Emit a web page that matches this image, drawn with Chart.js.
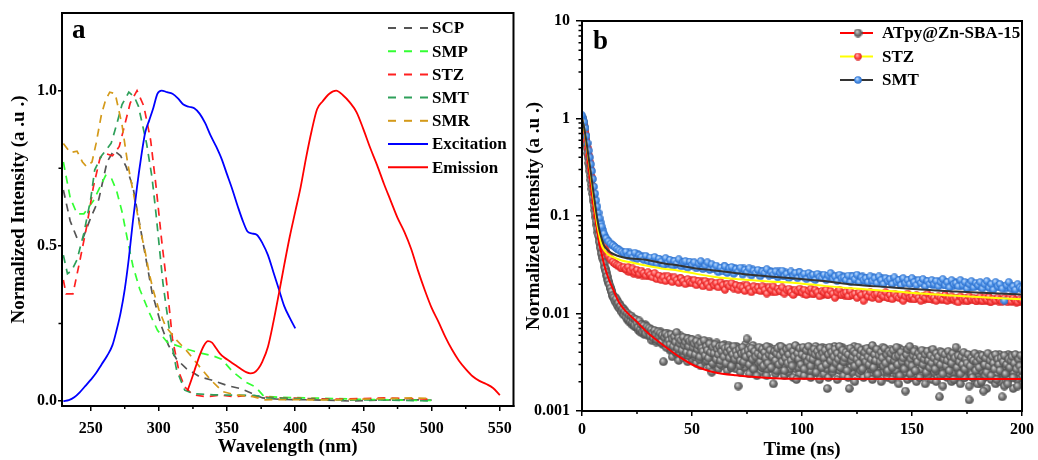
<!DOCTYPE html>
<html><head><meta charset="utf-8">
<script src="https://cdn.jsdelivr.net/npm/chart.js@4.4.1/dist/chart.umd.min.js"></script>
<style>
html,body{margin:0;padding:0;background:#fff;width:1038px;height:460px;overflow:hidden}
#ca{position:absolute;left:0;top:0}
#cb{position:absolute;left:520px;top:0}
</style></head><body>
<canvas id="ca" width="520" height="460"></canvas>
<canvas id="cb" width="518" height="460"></canvas>
<script>
// ---------------- Panel a data ----------------
const aTicksX = [250,300,350,400,450,500,550];
const aMinorX = [275,325,375,425,475,525];
const aTicksY = [0,0.5,1.0];
const aMinorY = [0.25,0.75];

const scpWl = [230,235,240,244,250,256,262,267,272,276,281,288,295,302,307,313,320,330,340,350,360,368,376,390,410,430,440,460,480,500];
const scpI  = [0.68,0.58,0.525,0.52,0.59,0.65,0.77,0.807,0.79,0.755,0.69,0.52,0.35,0.24,0.18,0.135,0.105,0.078,0.066,0.05,0.04,0.025,0.01,0.005,0.004,0.002,0.0,0.003,0.004,0.003];
const smpWl = [230,235,240,245,252,261,265,269,273,277,281,286,293,299,306,320,330,340,346,354,364,371,377,390,410,430,450,470,490,500];
const smpI  = [0.77,0.655,0.603,0.603,0.645,0.727,0.72,0.678,0.61,0.52,0.435,0.36,0.285,0.228,0.19,0.168,0.155,0.145,0.135,0.095,0.06,0.045,0.015,0.012,0.01,0.008,0.005,0.004,0.002,0.002];
const stzWl = [230,232,237,242,247,252,257,262,266,271,275,279,284,289,294,298,302,306,310,315,319,325,335,345,355,365,375,390,410,430,450,465,480,500];
const stzI  = [0.39,0.345,0.345,0.45,0.56,0.69,0.785,0.796,0.79,0.82,0.89,0.96,1.0,0.95,0.84,0.69,0.52,0.37,0.2,0.09,0.045,0.02,0.014,0.019,0.014,0.018,0.013,0.01,0.008,0.006,0.008,0.01,0.008,0.006];
const smtWl = [230,233,236,240,245,250,253,258,265,269,273,278,282,285,288,291,295,298,303,308,313,319,325,340,355,370,380,400,420,440,460,480,500];
const smtI  = [0.47,0.41,0.42,0.455,0.54,0.65,0.745,0.79,0.83,0.89,0.955,0.995,0.98,0.95,0.89,0.83,0.72,0.6,0.38,0.22,0.1,0.035,0.024,0.02,0.019,0.018,0.01,0.008,0.005,0.003,0.004,0.002,0.0];
const smrWl = [230,235,240,244,247,251,254,258,261,264,268,271,273,275,277,280,284,287,290,293,296,300,305,313,320,330,338,347,357,369,377,390,410,430,450,470,485,500];
const smrI  = [0.83,0.80,0.805,0.77,0.755,0.77,0.83,0.925,0.97,0.995,0.99,0.93,0.89,0.83,0.77,0.70,0.61,0.54,0.48,0.41,0.355,0.295,0.24,0.196,0.164,0.11,0.068,0.03,0.019,0.014,0.004,0.005,0.004,0.004,0.006,0.008,0.01,0.008];
const excWl = [230,234,238,242,246,250,254,258,262,266,269,272,275,278,281,284,287,290,293,296,299,302,306,310,314,318,322,326,330,334,338,342,346,350,354,358,362,365,368,372,376,380,384,388,392,396,400];
const excI  = [0,0.003,0.012,0.028,0.048,0.068,0.09,0.118,0.145,0.18,0.228,0.285,0.36,0.46,0.58,0.69,0.785,0.865,0.905,0.945,0.99,1.0,0.995,0.99,0.975,0.955,0.948,0.943,0.925,0.895,0.855,0.82,0.78,0.73,0.68,0.625,0.575,0.546,0.54,0.535,0.508,0.47,0.415,0.36,0.305,0.268,0.234];
const emWl  = [321,324,327,330,333,336,339,342,345,348,352,356,360,364,367,370,373,376,380,384,388,392,396,400,404,408,412,416,420,425,430,435,440,445,450,455,460,465,470,475,480,485,490,495,500,505,510,515,520,525,530,535,540,545,550];
const emI   = [0.033,0.07,0.11,0.148,0.178,0.193,0.188,0.17,0.152,0.14,0.128,0.116,0.104,0.093,0.089,0.092,0.105,0.128,0.175,0.255,0.346,0.44,0.53,0.61,0.69,0.785,0.87,0.94,0.965,0.99,1.0,0.985,0.962,0.93,0.875,0.815,0.76,0.70,0.645,0.59,0.545,0.49,0.42,0.357,0.30,0.255,0.207,0.165,0.13,0.103,0.08,0.065,0.055,0.042,0.019];

// ---------------- Panel b data ----------------
const bTicksX = [0,50,100,150,200];
const bMinorX = [25,75,125,175];
const bTicksY = [0.001,0.01,0.1,1,10];

// ATpy@Zn-SBA-15 decay points: two sets on a 0.5 ns grid (offset 0.25 ns) + lower part of the cloud on a 1 ns grid from 40 ns
const grayDt = 0.5;
const grayI = [
1.02,0.93,0.82,0.68,0.55,0.44,0.35,0.29,0.235,0.19,
0.155,0.128,0.105,0.088,0.074,0.063,0.054,0.047,0.041,0.037,
0.033,0.029,0.0265,0.024,0.0215,0.0198,0.0182,0.0168,0.0152,0.0146,
0.0134,0.0141,0.0122,0.0128,0.0113,0.0119,0.0104,0.0111,0.0097,0.0105,
0.0092,0.0101,0.0088,0.0096,0.0083,0.0094,0.0081,0.0089,0.0076,0.0087,
0.0079,0.0072,0.0084,0.0069,0.0077,0.0065,0.0075,0.0068,0.0062,0.0073,
0.0066,0.0071,0.0059,0.0068,0.0063,0.0056,0.0067,0.0061,0.0054,0.0065,
0.0058,0.0063,0.0051,0.0060,0.0032,0.0057,0.0062,0.0049,0.0059,0.0053,
0.0048,0.0061,0.0055,0.0046,0.0058,0.0051,0.0064,0.0044,0.0056,0.0049,
0.0053,0.0042,0.0057,0.0047,0.0051,0.0040,0.0055,0.0046,0.0052,0.0039,
0.0054,0.0045,0.0049,0.0038,0.0052,0.0043,0.0047,0.0036,0.0050,0.0044,
0.0041,0.0053,0.0037,0.0046,0.0042,0.0035,0.0049,0.0040,0.0025,0.0045,
0.0039,0.0048,0.0034,0.0043,0.0038,0.0046,0.0033,0.0041,0.0047,0.0036,
0.0044,0.0031,0.0040,0.0045,0.0035,0.0042,0.0029,0.0038,0.0046,0.0034,
0.0041,0.0037,0.0018,0.0043,0.0033,0.0039,0.0045,0.0032,0.0040,0.0036,
0.0055,0.0042,0.0030,0.0038,0.0044,0.0034,0.0027,0.0041,0.0036,0.0023,
0.0039,0.0045,0.0032,0.0037,0.0043,0.0029,0.0040,0.0035,0.0046,0.0031,
0.0038,0.0042,0.0028,0.0036,0.0019,0.0041,0.0033,0.0039,0.0044,0.0030,
0.0037,0.0046,0.0032,0.0040,0.0026,0.0035,0.0043,0.0031,0.0038,0.0045,
0.0033,0.0029,0.0041,0.0036,0.0047,0.0021,0.0039,0.0034,0.0044,0.0030,
0.0038,0.0045,0.0027,0.0036,0.0042,0.0032,0.0046,0.0035,0.0029,0.0040,
0.0034,0.0043,0.0038,0.0025,0.0041,0.0031,0.0037,0.0044,0.0028,0.0039,
0.0035,0.0042,0.0030,0.0017,0.0038,0.0045,0.0033,0.0040,0.0027,0.0036,
0.0043,0.0031,0.0039,0.0034,0.0046,0.0028,0.0037,0.0042,0.0032,0.0035,
0.0040,0.0026,0.0038,0.0017,0.0044,0.0033,0.0036,0.0041,0.0029,0.0039,
0.0034,0.0045,0.0031,0.0037,0.0042,0.0027,0.0035,0.0040,0.0032,0.0044,
0.0036,0.0030,0.0041,0.0034,0.0047,0.0028,0.0038,0.0033,0.0043,0.0024,
0.0037,0.0032,0.0040,0.0035,0.0029,0.0044,0.0031,0.0038,0.0026,0.0041,
0.0034,0.0039,0.0028,0.0042,0.0033,0.0036,0.0045,0.0030,0.0037,0.0023,
0.0040,0.0032,0.0035,0.0027,0.0016,0.0038,0.0043,0.0031,0.0046,0.0034,
0.0029,0.0037,0.0041,0.0026,0.0035,0.0032,0.0039,0.0022,0.0036,0.0042,
0.0030,0.0034,0.0038,0.0025,0.0041,0.0033,0.0028,0.0037,0.0031,0.0043,
0.0035,0.0027,0.0039,0.0032,0.0036,0.0014,0.0030,0.0040,0.0024,0.0034,
0.0038,0.0029,0.0033,0.0041,0.0026,0.0036,0.0031,0.0039,0.0021,0.0035,
0.0045,0.0028,0.0037,0.0032,0.0024,0.0036,0.0030,0.0040,0.0027,0.0034,
0.0031,0.0038,0.0013,0.0029,0.0035,0.0022,0.0033,0.0039,0.0026,0.0032,
0.0036,0.0028,0.0034,0.0020,0.0037,0.0016,0.0030,0.0035,0.0025,0.0039,
0.0029,0.0033,0.0023,0.0036,0.0031,0.0027,0.0038,0.0021,0.0034,0.0030,
0.0026,0.0035,0.0014,0.0032,0.0037,0.0024,0.0030,0.0019,0.0034,0.0028,
0.0033,0.0036,0.0022,0.0031,0.0038,0.0027,0.0018,0.0034,0.0029,0.0037,
0.0026];
const grayI2 = [
0.98,0.88,0.75,0.61,0.50,0.40,0.32,0.26,0.21,0.17,
0.142,0.115,0.097,0.081,0.068,0.058,0.050,0.044,0.039,0.035,
0.030,0.0275,0.0245,0.0222,0.0205,0.0185,0.0172,0.0158,0.0149,0.0138,
0.0145,0.0127,0.0133,0.0116,0.0124,0.0108,0.0115,0.0101,0.0109,0.0095,
0.0099,0.0086,0.0094,0.0081,0.0091,0.0077,0.0086,0.0074,0.0083,0.0072,
0.0082,0.0067,0.0078,0.0064,0.0074,0.0071,0.0061,0.0077,0.0064,0.0070,
0.0059,0.0069,0.0062,0.0053,0.0066,0.0058,0.0064,0.0051,0.0062,0.0057,
0.0052,0.0065,0.0055,0.0048,0.0061,0.0054,0.0045,0.0063,0.0050,0.0058,
0.0053,0.0043,0.0060,0.0050,0.0041,0.0057,0.0048,0.0053,0.0040,0.0059,
0.0046,0.0055,0.0038,0.0050,0.0044,0.0056,0.0037,0.0048,0.0043,0.0054,
0.0040,0.0050,0.0036,0.0047,0.0042,0.0055,0.0034,0.0045,0.0039,0.0051,
0.0036,0.0044,0.0048,0.0033,0.0041,0.0052,0.0038,0.0043,0.0031,0.0047,
0.0042,0.0035,0.0050,0.0037,0.0044,0.0030,0.0045,0.0039,0.0034,0.0048,
0.0036,0.0043,0.0033,0.0047,0.0039,0.0028,0.0044,0.0036,0.0041,0.0032,
0.0046,0.0034,0.0039,0.0029,0.0044,0.0037,0.0031,0.0042,0.0048,0.0035,
0.0038,0.0032,0.0045,0.0040,0.0033,0.0047,0.0029,0.0039,0.0043,0.0034,
0.0031,0.0041,0.0036,0.0028,0.0044,0.0038,0.0033,0.0042,0.0027,0.0040,
0.0045,0.0034,0.0039,0.0031,0.0043,0.0036,0.0026,0.0041,0.0037,0.0046,
0.0032,0.0040,0.0035,0.0044,0.0029,0.0038,0.0042,0.0033,0.0027,0.0041,
0.0037,0.0044,0.0031,0.0039,0.0034,0.0045,0.0028,0.0040,0.0036,0.0042,
0.0033,0.0039,0.0044,0.0030,0.0041,0.0035,0.0038,0.0026,0.0043,0.0037,
0.0040,0.0032,0.0046,0.0035,0.0029,0.0042,0.0036,0.0033,0.0045,0.0031,
0.0039,0.0044,0.0027,0.0037,0.0041,0.0032,0.0036,0.0043,0.0030,0.0046,
0.0034,0.0040,0.0029,0.0038,0.0042,0.0033,0.0045,0.0031,0.0039,0.0027,
0.0036,0.0043,0.0032,0.0039,0.0028,0.0041,0.0035,0.0046,0.0030,0.0037,
0.0042,0.0031,0.0038,0.0026,0.0040,0.0034,0.0043,0.0029,0.0037,0.0033,
0.0039,0.0044,0.0032,0.0037,0.0027,0.0041,0.0035,0.0030,0.0042,0.0036,
0.0031,0.0040,0.0034,0.0045,0.0029,0.0036,0.0041,0.0025,0.0038,0.0033,
0.0043,0.0030,0.0037,0.0032,0.0040,0.0026,0.0039,0.0034,0.0044,0.0031,
0.0036,0.0042,0.0028,0.0038,0.0033,0.0041,0.0030,0.0035,0.0024,0.0040,
0.0034,0.0031,0.0043,0.0036,0.0028,0.0039,0.0033,0.0040,0.0027,0.0037,
0.0032,0.0041,0.0029,0.0036,0.0023,0.0038,0.0034,0.0042,0.0030,0.0035,
0.0039,0.0031,0.0026,0.0037,0.0033,0.0041,0.0028,0.0035,0.0032,0.0038,
0.0030,0.0036,0.0040,0.0027,0.0034,0.0029,0.0037,0.0025,0.0032,0.0039,
0.0033,0.0036,0.0026,0.0031,0.0038,0.0028,0.0034,0.0022,0.0036,0.0030,
0.0035,0.0027,0.0033,0.0037,0.0024,0.0031,0.0036,0.0029,0.0034,0.0019,
0.0032,0.0038,0.0026,0.0033,0.0029,0.0036,0.0023,0.0031,0.0035,0.0027,
0.0034,0.0025,0.0032,0.0037,0.0028,0.0033,0.0024,0.0035,0.0030,0.0038,
0.0029,0.0034,0.0031,0.0025,0.0036,0.0028,0.0033,0.0038,0.0026,0.0032,
0.0037,0.0030,0.0025,0.0035,0.0031,0.0021,0.0033,0.0036,0.0028,0.0032];
const grayI3 = [
0.0042,0.0036,0.0045,0.0039,0.0033,0.0041,0.0035,0.0043,0.0032,0.0038,
0.0034,0.0040,0.0031,0.0037,0.0029,0.0036,0.0032,0.0039,0.0028,0.0034,
0.0030,0.0035,0.0027,0.0033,0.0029,0.0036,0.0026,0.0031,0.0028,0.0034,
0.0027,0.0032,0.0025,0.0030,0.0028,0.0033,0.0024,0.0029,0.0031,0.0026,
0.0030,0.0025,0.0028,0.0032,0.0023,0.0029,0.0027,0.0031,0.0024,0.0028,
0.0026,0.0031,0.0023,0.0028,0.0025,0.0030,0.0022,0.0027,0.0029,0.0024,
0.0028,0.0023,0.0030,0.0026,0.0022,0.0029,0.0025,0.0027,0.0021,0.0028,
0.0024,0.0029,0.0022,0.0027,0.0025,0.0030,0.0021,0.0026,0.0028,0.0023,
0.0027,0.0022,0.0029,0.0025,0.0020,0.0028,0.0024,0.0026,0.0022,0.0029,
0.0023,0.0027,0.0021,0.0026,0.0024,0.0028,0.0020,0.0025,0.0027,0.0022,
0.0026,0.0021,0.0028,0.0024,0.0019,0.0027,0.0023,0.0025,0.0021,0.0028,
0.0022,0.0026,0.0020,0.0025,0.0023,0.0027,0.0019,0.0024,0.0026,0.0021,
0.0025,0.0020,0.0027,0.0023,0.0018,0.0026,0.0022,0.0024,0.0020,0.0027,
0.0021,0.0025,0.0019,0.0024,0.0022,0.0026,0.0018,0.0023,0.0025,0.0020,
0.0024,0.0019,0.0026,0.0022,0.0017,0.0025,0.0021,0.0023,0.0019,0.0026,
0.0020,0.0024,0.0018,0.0023,0.0021,0.0025,0.0017,0.0022,0.0024,0.0019,
0.0022];

// STZ and SMT decay points, channel grid 1 ns (second sets offset by 0.5 ns)
const ptDt = 1;
const stzPts = [
1.0,0.84,0.6,0.42,0.3,0.2,0.14,0.1,0.075,0.06,
0.05,0.044,0.039,0.036,0.034,0.0325,0.0315,0.031,0.0295,0.03,
0.0285,0.03,0.0275,0.029,0.0265,0.028,0.0255,0.0275,0.026,0.0245,
0.0265,0.025,0.0235,0.026,0.0225,0.0245,0.022,0.0235,0.0215,0.024,
0.0225,0.021,0.0235,0.022,0.0205,0.023,0.0215,0.02,0.0225,0.021,
0.0205,0.022,0.0195,0.0215,0.0205,0.019,0.0215,0.02,0.0185,0.021,
0.0195,0.0205,0.0185,0.021,0.0195,0.0175,0.02,0.019,0.0205,0.018,
0.0195,0.0175,0.019,0.0185,0.017,0.0195,0.018,0.0165,0.019,0.0175,
0.0185,0.017,0.019,0.0175,0.016,0.0185,0.0175,0.019,0.0165,0.018,
0.017,0.0185,0.016,0.0175,0.018,0.0165,0.0155,0.0175,0.017,0.018,
0.0165,0.0175,0.0155,0.017,0.018,0.016,0.0175,0.0165,0.015,0.017,
0.0165,0.0175,0.0155,0.017,0.016,0.0145,0.0165,0.0175,0.0155,0.016,
0.0165,0.015,0.017,0.0155,0.016,0.0145,0.0165,0.0155,0.0135,0.016,
0.015,0.0165,0.0145,0.0155,0.016,0.014,0.0155,0.015,0.0165,0.0145,
0.0155,0.014,0.016,0.015,0.0145,0.0155,0.0135,0.015,0.016,0.0145,
0.015,0.014,0.0155,0.0145,0.0135,0.015,0.0145,0.016,0.014,0.015,
0.0145,0.0135,0.015,0.0145,0.014,0.0155,0.0135,0.0145,0.015,0.014,
0.0145,0.013,0.015,0.014,0.0145,0.0135,0.015,0.014,0.0145,0.0135,
0.014,0.015,0.0135,0.0145,0.0138,0.0148,0.0132,0.0142,0.0136,0.0146,
0.0138,0.0132,0.0145,0.0136,0.0141,0.0133,0.0144,0.0137,0.0131,0.014,
0.0136];
const stzPts2 = [
0.93,0.72,0.5,0.36,0.25,0.17,0.12,0.087,0.067,0.055,
0.047,0.041,0.0375,0.035,0.033,0.032,0.0305,0.0295,0.029,0.0285,
0.0275,0.0265,0.028,0.0255,0.027,0.025,0.0265,0.0245,0.0255,0.025,
0.024,0.0255,0.0245,0.023,0.0245,0.0235,0.0225,0.024,0.023,0.022,
0.0235,0.0215,0.0225,0.0215,0.023,0.021,0.022,0.0215,0.0205,0.022,
0.021,0.0205,0.0215,0.02,0.0215,0.0205,0.0195,0.021,0.02,0.0195,
0.02,0.019,0.0205,0.0195,0.0185,0.02,0.019,0.0195,0.0185,0.0195,
0.0185,0.019,0.018,0.0195,0.018,0.0185,0.0175,0.0185,0.018,0.0185,
0.0175,0.018,0.017,0.0185,0.0175,0.018,0.0165,0.0175,0.018,0.017,
0.0175,0.0165,0.0175,0.017,0.0165,0.0175,0.016,0.017,0.0165,0.017,
0.016,0.017,0.0165,0.016,0.0168,0.0158,0.0165,0.016,0.0168,0.0155,
0.0162,0.0155,0.0165,0.0158,0.016,0.0152,0.016,0.0155,0.0162,0.0152,
0.0158,0.015,0.016,0.0153,0.0157,0.0148,0.0156,0.0151,0.0158,0.0148,
0.0153,0.0147,0.0155,0.0149,0.0153,0.0145,0.0151,0.0146,0.0152,0.0144,
0.015,0.0144,0.0151,0.0146,0.0149,0.0141,0.0148,0.0143,0.0149,0.014,
0.0146,0.0141,0.0148,0.0143,0.0146,0.0138,0.0145,0.014,0.0146,0.0138,
0.0143,0.0139,0.0145,0.0137,0.0142,0.0136,0.0143,0.0138,0.0141,0.0135,
0.0141,0.0136,0.0142,0.0135,0.014,0.0134,0.0141,0.0136,0.0139,0.0133,
0.0138,0.0134,0.014,0.0133,0.0137,0.0131,0.0138,0.0134,0.0136,0.0132,
0.0137,0.0133,0.0135,0.013,0.0136,0.0132,0.0134,0.0129,0.0135,0.0131];
const smtPts = [
1.08,0.92,0.66,0.47,0.34,0.24,0.17,0.125,0.095,0.078,
0.066,0.059,0.055,0.052,0.05,0.048,0.046,0.0445,0.043,0.0415,
0.043,0.039,0.041,0.0375,0.042,0.0365,0.0395,0.038,0.0355,0.039,
0.0345,0.0375,0.0335,0.038,0.0325,0.0365,0.034,0.0315,0.037,0.033,
0.0355,0.031,0.0345,0.0325,0.036,0.0305,0.0335,0.0345,0.0295,0.034,
0.0315,0.0335,0.029,0.0325,0.0345,0.0285,0.031,0.0335,0.028,0.032,
0.0285,0.031,0.0265,0.0295,0.027,0.0305,0.026,0.029,0.03,0.0255,
0.0285,0.027,0.0295,0.025,0.028,0.0265,0.029,0.0245,0.0275,0.026,
0.028,0.024,0.027,0.026,0.0285,0.0245,0.0265,0.025,0.027,0.0235,
0.026,0.0275,0.024,0.0255,0.023,0.027,0.0245,0.026,0.023,0.0265,
0.024,0.0255,0.0225,0.026,0.024,0.025,0.022,0.0255,0.0235,0.023,
0.025,0.022,0.0245,0.026,0.0225,0.024,0.0215,0.025,0.023,0.0235,
0.022,0.0245,0.021,0.024,0.0225,0.025,0.021,0.0235,0.022,0.023,
0.021,0.024,0.0215,0.023,0.0205,0.024,0.022,0.02,0.023,0.0215,
0.0225,0.02,0.0235,0.021,0.022,0.0195,0.023,0.0205,0.022,0.02,
0.023,0.021,0.0195,0.022,0.0205,0.0225,0.019,0.0215,0.02,0.022,
0.02,0.0215,0.019,0.021,0.0225,0.0195,0.021,0.0185,0.022,0.02,
0.0205,0.019,0.022,0.0195,0.021,0.018,0.02,0.0215,0.0185,0.0205,
0.0195,0.021,0.018,0.02,0.0215,0.0185,0.02,0.0175,0.021,0.019,
0.02,0.018,0.0135,0.0195,0.021,0.018,0.019,0.0175,0.02,0.0185,
0.018];
const smtPts2 = [
1.0,0.8,0.56,0.4,0.29,0.2,0.145,0.108,0.086,0.072,
0.062,0.057,0.0535,0.051,0.049,0.047,0.0455,0.044,0.0425,0.041,
0.0405,0.0425,0.0385,0.040,0.0375,0.0405,0.037,0.039,0.0365,0.0375,
0.036,0.0335,0.0355,0.0345,0.0365,0.033,0.0355,0.0345,0.032,0.035,
0.033,0.0345,0.0315,0.034,0.0325,0.0335,0.031,0.0325,0.0335,0.0305,
0.033,0.0305,0.032,0.03,0.031,0.0325,0.0295,0.0315,0.03,0.0305,
0.03,0.028,0.0295,0.0285,0.0305,0.0275,0.0295,0.028,0.0285,0.029,
0.027,0.0285,0.0275,0.029,0.0265,0.028,0.027,0.0285,0.026,0.0275,
0.0265,0.0275,0.0255,0.027,0.026,0.0275,0.025,0.0265,0.0255,0.027,
0.0255,0.0245,0.0265,0.025,0.026,0.024,0.0255,0.025,0.0265,0.0245,
0.025,0.0235,0.0245,0.0255,0.023,0.0245,0.024,0.0235,0.025,0.024,
0.0235,0.0245,0.023,0.024,0.0235,0.0225,0.0245,0.0235,0.024,0.0225,
0.0235,0.0225,0.024,0.023,0.022,0.0235,0.0225,0.024,0.0215,0.023,
0.0225,0.022,0.0235,0.0215,0.0225,0.022,0.023,0.021,0.0225,0.022,
0.021,0.0225,0.0215,0.022,0.0205,0.0225,0.021,0.0215,0.022,0.0205,
0.0215,0.022,0.0205,0.021,0.0215,0.02,0.0215,0.0205,0.021,0.0195,
0.021,0.02,0.0215,0.0205,0.0195,0.021,0.02,0.0205,0.019,0.021,
0.0195,0.0205,0.019,0.02,0.0195,0.0205,0.0185,0.0195,0.02,0.019,
0.0195,0.0185,0.02,0.019,0.0195,0.018,0.0195,0.019,0.0185,0.0195,
0.0185,0.019,0.018,0.0195,0.0185,0.019,0.0175,0.019,0.0185,0.018];

const redFitT = [0,1,2,3,4,5,6,7,8,9,10,12,14,17,20,25,30,35,40,45,50,55,60,70,80,90,100,120,150,200];
const redFitV = [1.0,0.75,0.5,0.32,0.21,0.14,0.095,0.068,0.05,0.04,0.032,0.023,0.018,0.0128,0.0105,0.0082,0.0063,0.0051,0.0042,0.0035,0.003,0.0027,0.0025,0.00232,0.00222,0.00216,0.00214,0.00213,0.00213,0.00213];
const fitT    = [0,1,2,3,4,5,6,7,8,9,10,12,14,18,22,29,36,44,52,59,66,74,85,97,110,124,140,154,170,184,200];
const yelFitV = [1.0,0.78,0.55,0.38,0.26,0.17,0.115,0.08,0.061,0.05,0.045,0.040,0.038,0.035,0.0335,0.031,0.029,0.0275,0.0255,0.024,0.023,0.0222,0.0213,0.0206,0.0192,0.018,0.017,0.016,0.0152,0.01455,0.014];
const smtFitV = [1.0,0.8,0.58,0.40,0.28,0.19,0.13,0.092,0.07,0.058,0.05,0.044,0.041,0.038,0.0367,0.0355,0.033,0.031,0.029,0.0278,0.0266,0.0253,0.024,0.0229,0.0215,0.0197,0.0186,0.0176,0.0168,0.0162,0.0157];

// ---------------- helpers ----------------
const FONT = "'Liberation Serif','Times New Roman',serif";
Chart.defaults.font.family = FONT;
Chart.defaults.color = '#000';
const xy = (xs, ys) => ys.map((v, i) => ({x: xs[i], y: v}));
const onGrid = (vals, t0, dt) => vals.map((v, i) => ({x: t0 + i * dt, y: v}));
const grid = (t) => ({ display: true, drawOnChartArea: false, drawTicks: true, tickLength: t, color: '#000', lineWidth: 1.5 });
const border = { display: true, color: '#000', width: 2 };
const tickFont = { family: FONT, size: 16, weight: 'bold' };
const titleFont = { family: FONT, size: 19, weight: 'bold', lineHeight: 1 };

function sphere(light, base, dark, d) {
  const c = document.createElement('canvas');
  c.width = d; c.height = d;
  const g = c.getContext('2d');
  const gr = g.createRadialGradient(d*0.38, d*0.34, d*0.04, d/2, d/2, d/2);
  gr.addColorStop(0, light); gr.addColorStop(0.55, base); gr.addColorStop(1, dark);
  g.fillStyle = gr; g.beginPath(); g.arc(d/2, d/2, d/2 - 0.2, 0, Math.PI*2); g.fill();
  return c;
}
const graySphere = sphere('#cccccc', '#737373', '#4a4a4a', 9);
const redSphere  = sphere('#ffb0b0', '#ff4444', '#d42020', 8);
const blueSphere = sphere('#b8d6fb', '#4a90e8', '#2a6ac4', 8);

function decoPlugin(minorX, minorY, label, lx, ly, legendDraw) {
  return { id: 'deco', afterDraw(chart) {
    const {ctx, chartArea: a, scales: {x, y}} = chart;
    ctx.save();
    ctx.strokeStyle = '#000'; ctx.lineWidth = 2;
    ctx.strokeRect(a.left, a.top, a.right - a.left, a.bottom - a.top);
    ctx.lineWidth = 1.5; ctx.beginPath();
    minorX.forEach(v => { const p = x.getPixelForValue(v); ctx.moveTo(p, a.bottom); ctx.lineTo(p, a.bottom + 3); });
    minorY.forEach(v => { const p = y.getPixelForValue(v); ctx.moveTo(a.left, p); ctx.lineTo(a.left - 3.5, p); });
    ctx.stroke();
    ctx.fillStyle = '#000'; ctx.font = 'bold 27px ' + FONT; ctx.textBaseline = 'alphabetic'; ctx.textAlign = 'left';
    ctx.fillText(label, lx, ly);
    legendDraw(ctx);
    ctx.restore();
  }};
}

// ---------------- Panel a ----------------
const aSeries = [
  {label: 'SCP', xs: scpWl, ys: scpI, color: '#555555', dash: [8,6]},
  {label: 'SMP', xs: smpWl, ys: smpI, color: '#33ff33', dash: [8,6]},
  {label: 'STZ', xs: stzWl, ys: stzI, color: '#ff2020', dash: [8,6]},
  {label: 'SMT', xs: smtWl, ys: smtI, color: '#2ea05a', dash: [8,6]},
  {label: 'SMR', xs: smrWl, ys: smrI, color: '#d49a1a', dash: [8,6]},
  {label: 'Excitation', xs: excWl, ys: excI, color: '#0000ff', dash: []},
  {label: 'Emission', xs: emWl, ys: emI, color: '#ff0000', dash: []}
];
function legendA(ctx) {
  ctx.font = 'bold 17px ' + FONT; ctx.textBaseline = 'middle';
  aSeries.forEach((s, i) => {
    const yy = 28 + i * 23.2;
    ctx.strokeStyle = s.color; ctx.lineWidth = 2; ctx.setLineDash(s.dash.length ? [8,8] : []);
    ctx.beginPath(); ctx.moveTo(388, yy); ctx.lineTo(428, yy); ctx.stroke();
    ctx.setLineDash([]);
    ctx.fillStyle = '#000'; ctx.fillText(s.label, 432, yy + 1);
  });
}
new Chart(document.getElementById('ca'), {
  type: 'line',
  data: { datasets: aSeries.map((s, i) => ({
    label: s.label, data: xy(s.xs, s.ys), borderColor: s.color, borderDash: s.dash,
    borderWidth: s.dash.length ? 1.7 : 1.8, pointRadius: 0, fill: false,
    tension: s.dash.length ? 0 : 0.4, cubicInterpolationMode: s.dash.length ? 'default' : 'monotone',
    order: 10 - i
  })) },
  options: {
    responsive: false, animation: false, events: [], devicePixelRatio: 1,
    layout: { padding: { left: 0, top: 13, right: 5, bottom: 0 } },
    plugins: { legend: { display: false }, tooltip: { enabled: false } },
    scales: {
      x: { type: 'linear', min: 229, max: 560,
        afterBuildTicks: s => { s.ticks = aTicksX.map(v => ({value: v})); },
        afterFit: s => { s.height = 54; },
        ticks: { font: tickFont, color: '#000', padding: 8, autoSkip: false, maxRotation: 0, callback: v => String(v) },
        grid: grid(5), border,
        title: { display: true, text: 'Wavelength (nm)', font: titleFont, color: '#000', padding: { top: 0, bottom: 3 } } },
      y: { type: 'linear', min: -0.016, max: 1.25,
        afterBuildTicks: s => { s.ticks = aTicksY.map(v => ({value: v})); },
        afterFit: s => { s.width = 62; },
        ticks: { font: tickFont, color: '#000', padding: 1, autoSkip: false, callback: v => Number(v).toFixed(1) },
        grid: grid(4), border,
        title: { display: true, text: 'Normalized Intensity (a .u .)', font: titleFont, color: '#000', padding: { top: 10, bottom: 0 } } }
    }
  },
  plugins: [decoPlugin(aMinorX, aMinorY, 'a', 72, 38, legendA)]
});

// ---------------- Panel b ----------------
const bLegend = [
  {label: 'ATpy@Zn-SBA-15', line: '#ff0000', img: graySphere},
  {label: 'STZ', line: '#ffff00', img: redSphere},
  {label: 'SMT', line: '#333333', img: blueSphere}
];
function legendB(ctx) {
  ctx.font = 'bold 17px ' + FONT; ctx.textBaseline = 'middle'; ctx.textAlign = 'left';
  bLegend.forEach((s, i) => {
    const yy = 33 + i * 23.5;
    ctx.strokeStyle = s.line; ctx.lineWidth = 2; ctx.setLineDash([]);
    ctx.beginPath(); ctx.moveTo(320, yy); ctx.lineTo(353, yy); ctx.stroke();
    ctx.drawImage(s.img, 338 - s.img.width/2, yy - s.img.height/2);
    ctx.fillStyle = '#000'; ctx.fillText(s.label, 362, yy + 1);
  });
}
const bMinorY = [];
[0.001, 0.01, 0.1, 1].forEach(d => { for (let k = 2; k <= 9; k++) bMinorY.push(k * d); });

const fitLine = (label, xs, ys, color) => ({ label, data: xy(xs, ys), borderColor: color, borderWidth: 2, pointRadius: 0, tension: 0.4, cubicInterpolationMode: 'monotone', showLine: true });
const pts = (label, data, img, r) => ({ label, data, showLine: false, pointStyle: img, pointRadius: r });

new Chart(document.getElementById('cb'), {
  type: 'line',
  data: { datasets: [
    fitLine('SMT fit', fitT, smtFitV, '#333333'),
    fitLine('STZ fit', fitT, yelFitV, '#ffff00'),
    fitLine('ATpy fit', redFitT, redFitV, '#ff0000'),
    pts('SMT', onGrid(smtPts, 0, ptDt), blueSphere, 4),
    pts('SMT b', onGrid(smtPts2, 0.5, ptDt), blueSphere, 4),
    pts('STZ', onGrid(stzPts, 0, ptDt), redSphere, 4),
    pts('STZ b', onGrid(stzPts2, 0.5, ptDt), redSphere, 4),
    pts('ATpy@Zn-SBA-15', onGrid(grayI, 0, grayDt), graySphere, 4.5),
    pts('ATpy@Zn-SBA-15 b', onGrid(grayI2, 0.25, grayDt), graySphere, 4.5),
    pts('ATpy@Zn-SBA-15 c', onGrid(grayI3, 40, 1), graySphere, 4.5)
  ] },
  options: {
    responsive: false, animation: false, events: [], devicePixelRatio: 1,
    layout: { padding: { left: 0, top: 21, right: 14, bottom: 0 } },
    plugins: { legend: { display: false }, tooltip: { enabled: false } },
    scales: {
      x: { type: 'linear', min: 0, max: 200,
        afterBuildTicks: s => { s.ticks = bTicksX.map(v => ({value: v})); },
        afterFit: s => { s.height = 49; },
        ticks: { font: tickFont, color: '#000', padding: 4, autoSkip: false, maxRotation: 0, callback: v => String(v) },
        grid: grid(5), border,
        title: { display: true, text: 'Time (ns)', font: titleFont, color: '#000', padding: { top: 0, bottom: 0 } } },
      y: { type: 'logarithmic', min: 0.001, max: 10,
        afterBuildTicks: s => { s.ticks = bTicksY.map(v => ({value: v})); },
        afterFit: s => { s.width = 62; },
        ticks: { font: tickFont, color: '#000', padding: 6, autoSkip: false, callback: v => String(v) },
        grid: grid(6), border,
        title: { display: true, text: 'Normalized Intensity (a .u .)', font: titleFont, color: '#000', padding: { top: 5, bottom: 0 } } }
    }
  },
  plugins: [decoPlugin(bMinorX, bMinorY, 'b', 73, 49, legendB)]
});
</script></body></html>
